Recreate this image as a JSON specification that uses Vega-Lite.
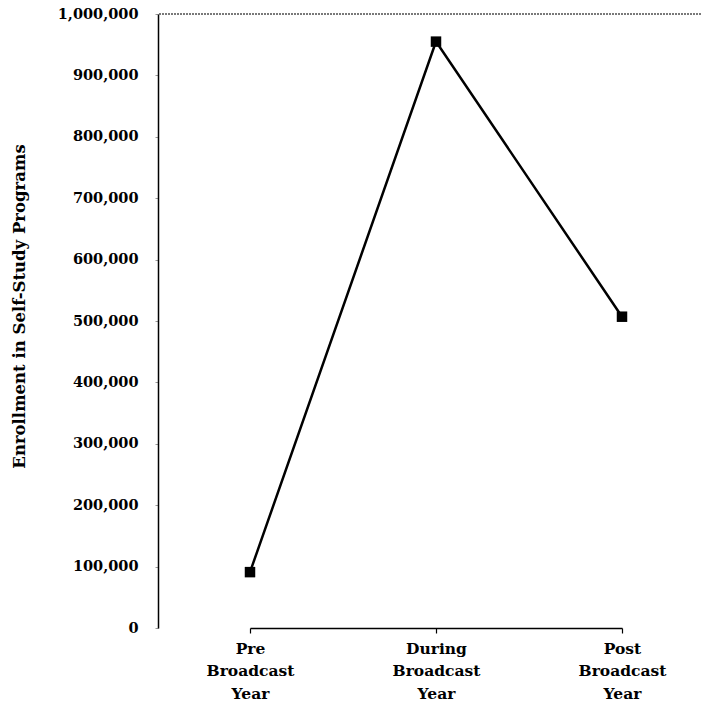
{
  "$schema": "https://vega.github.io/schema/vega-lite/v6.json",
  "autosize": "none",
  "padding": {"left": 158, "top": 14, "right": 0, "bottom": 74},
  "width": 543,
  "height": 614,
  "background": "white",
  "config": {
    "view": {"stroke": null},
    "axis": {"grid": false, "labelFont": "DejaVu Serif", "labelFontWeight": "bold", "labelFontSize": 14.5, "labelColor": "black", "titleFont": "DejaVu Serif", "titleFontWeight": "bold", "titleFontSize": 16.5, "titleColor": "black", "domainColor": "black", "domainWidth": 1.5}
  },
  "data": {
    "values": [
      {"period": "Pre Broadcast Year", "enrollment": 91000},
      {"period": "During Broadcast Year", "enrollment": 955000},
      {"period": "Post Broadcast Year", "enrollment": 507000}
    ]
  },
  "layer": [
    {
      "mark": {"type": "rule", "color": "#666666", "strokeDash": [2, 1], "strokeWidth": 1},
      "encoding": {"y": {"datum": 1000000, "type": "quantitative", "scale": {"domain": [0, 1000000], "nice": false}}}
    },
    {
      "encoding": {
        "x": {
          "field": "period", "type": "ordinal", "sort": null,
          "scale": {"type": "point", "range": [92, 464], "padding": 0},
          "axis": {"title": null, "labelAngle": 0, "labelExpr": "split(datum.label, ' ')", "labelFontSize": 15.5, "labelLineHeight": 22.5, "labelPadding": 8, "tickSize": 5, "tickColor": "black", "tickWidth": 1.2}
        },
        "y": {
          "field": "enrollment", "type": "quantitative",
          "scale": {"domain": [0, 1000000], "nice": false},
          "axis": {"title": "Enrollment in Self-Study Programs", "titleY": 292, "values": [0, 100000, 200000, 300000, 400000, 500000, 600000, 700000, 800000, 900000, 1000000], "format": ",.0f", "tickSize": 3, "tickColor": "#999999", "labelPadding": 17, "titlePadding": 30}
        }
      },
      "layer": [
        {"mark": {"type": "line", "color": "black", "strokeWidth": 2.5}},
        {"mark": {"type": "point", "shape": "square", "filled": true, "color": "black", "size": 110, "opacity": 1}}
      ]
    }
  ]
}
